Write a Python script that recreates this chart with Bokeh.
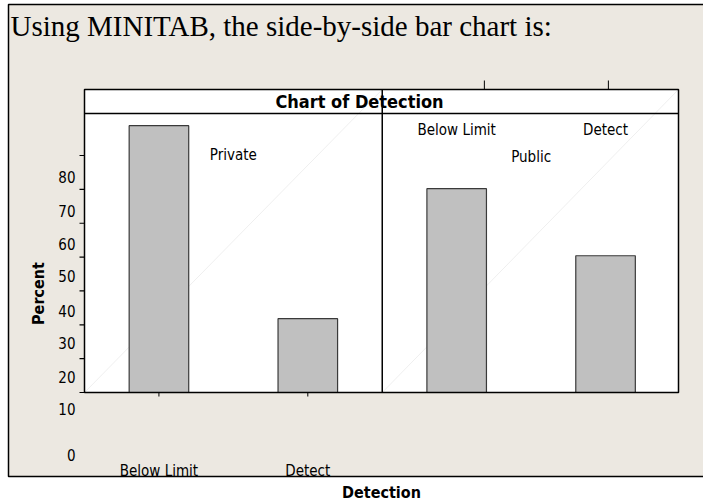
import math
from bokeh.plotting import figure
from bokeh.models import Range1d
from bokeh.core.properties import value
from bokeh.embed import file_html
from bokeh.resources import INLINE

# ---------------- data ----------------
groups = ["Private", "Public"]
categories = ["Below Limit", "Detect"]
private_pct = [78.8, 21.8]
public_pct = [60.2, 40.4]
y_ticks = [0, 10, 20, 30, 40, 50, 60, 70]
y_tick_labels = ["80", "70", "60", "50", "40", "30", "20", "10", "0"]
y_tick_label_pos = [63.8, 53.7, 44.0, 34.3, 24.2, 14.5, 4.7, -5.0, -18.6]
top_tick_pos = [2.186, 3.019]
page_title = "Using MINITAB, the side-by-side bar chart is:"
chart_title = "Chart of Detection"
x_title = "Detection"
y_title = "Percent"

# ---------------- layout (pixel geometry) ----------------
W, H = 703, 504
PL, PR, PT, PB = 84, 678, 89, 392   # chart panel edges
BOX_L, BOX_T, BOX_B = 8, 4, 476     # page box edges
X0, X1 = -0.5, 3.49
Y0, Y1 = 0.0, 89.5
SX = (X1 - X0) / (PR - PL)
SY = (Y1 - Y0) / (PB - PT)


def rx(px):
    return X0 + (px - PL) * SX


def ry(py):
    return Y0 + (PB - py) * SY


BEIGE = "#ece8e1"
SANS = value("DejaVu Sans Condensed, DejaVu Sans")
SERIF = value("Liberation Serif")

p = figure(width=W, height=H,
           x_range=Range1d(rx(0), rx(W)), y_range=Range1d(ry(H), ry(0)),
           output_backend="svg", toolbar_location=None,
           min_border=0, border_fill_color="white", background_fill_color="white",
           outline_line_color=None)
p.axis.visible = False
p.grid.visible = False

# beige page box
p.quad(left=[rx(BOX_L)], right=[rx(W + 10)], top=[ry(BOX_T)], bottom=[ry(BOX_B)],
       fill_color=BEIGE, line_color=None)

# chart panel
p.quad(left=[X0], right=[X1], bottom=[Y0], top=[Y1], fill_color="white", line_color=None)

n_cat = len(categories)
panel_edges = [X0, X0 + n_cat, X1]
# faint diagonals
p.segment(x0=panel_edges[:-1], y0=[Y0, Y0], x1=panel_edges[1:], y1=[Y1, Y1],
          line_color="#efefef", line_width=1)

# bars
xs, tops = [], []
for gi, vals in enumerate([private_pct, public_pct]):
    for ci, v in enumerate(vals):
        xs.append(gi * n_cat + ci)
        tops.append(v)
p.vbar(x=xs, top=tops, width=0.4, bottom=Y0,
       fill_color="#c0c0c0", line_color="#3a3a3a", line_width=1.2)

# panel outline, divider, header line
p.quad(left=[X0], right=[X1], bottom=[Y0], top=[Y1], fill_color=None,
       line_color="black", line_width=1.5)
p.segment(x0=[X0 + n_cat], y0=[Y0], x1=[X0 + n_cat], y1=[Y1], line_color="black", line_width=1.5)
p.segment(x0=[X0], y0=[ry(113)], x1=[X1], y1=[ry(113)], line_color="black", line_width=1.5)

# y ticks (left, outward 5px)
p.segment(x0=[rx(PL - 5)] * len(y_ticks), y0=y_ticks, x1=[X0] * len(y_ticks), y1=y_ticks,
          line_color="black", line_width=1.2)
# bottom ticks at the Private categories
bt = list(range(n_cat))
p.segment(x0=bt, y0=[Y0] * n_cat, x1=bt, y1=[ry(PB + 4)] * n_cat, line_color="black", line_width=1)
# top ticks
p.segment(x0=top_tick_pos, y0=[Y1] * len(top_tick_pos), x1=top_tick_pos,
          y1=[ry(PT - 9)] * len(top_tick_pos), line_color="black", line_width=1)

# header title
p.text(x=[rx(359)], y=[ry(101)], text=[chart_title], text_align="center",
       text_baseline="middle", text_font=SANS, text_font_style="bold",
       text_font_size="18px", text_color="black")

# group labels
gx = [gi * n_cat + (n_cat - 1) / 2 for gi in range(len(groups))]
p.text(x=gx, y=[ry(154), ry(156)], text=groups, text_align="center",
       text_baseline="middle", text_font=SANS, text_font_size="15px", text_color="black")
# category labels over Public panel
p.text(x=[n_cat + ci for ci in range(n_cat)], y=[ry(129)] * n_cat, text=categories,
       text_align="center", text_baseline="middle", text_font=SANS,
       text_font_size="15px", text_color="black")

# y tick labels
p.text(x=[rx(75)] * len(y_tick_labels), y=y_tick_label_pos, text=y_tick_labels,
       text_align="right", text_baseline="middle", text_font=SANS,
       text_font_size="15px", text_color="black")

# y title
p.text(x=[rx(37.5)], y=[ry(293)], text=[y_title], angle=math.pi / 2, text_align="center",
       text_baseline="middle", text_font=SANS, text_font_style="bold",
       text_font_size="16px", text_color="black")

# bottom category labels
p.text(x=bt, y=[ry(470)] * n_cat, text=categories, text_align="center",
       text_baseline="middle", text_font=SANS, text_font_size="15px", text_color="black")

# page box border (top, left, bottom)
p.multi_line(xs=[[rx(W + 10), rx(BOX_L), rx(BOX_L), rx(W + 10)]],
             ys=[[ry(BOX_T), ry(BOX_T), ry(BOX_B), ry(BOX_B)]],
             line_color="black", line_width=1.5)

# x title
p.text(x=[rx(381)], y=[ry(492)], text=[x_title], text_align="center",
       text_baseline="middle", text_font=SANS, text_font_style="bold",
       text_font_size="16px", text_color="black")

# page title
p.text(x=[rx(10)], y=[ry(25)], text=[page_title], text_align="left",
       text_baseline="middle", text_font=SERIF, text_font_size="29px", text_color="black")

open("out.html", "w").write(file_html(p, INLINE))
